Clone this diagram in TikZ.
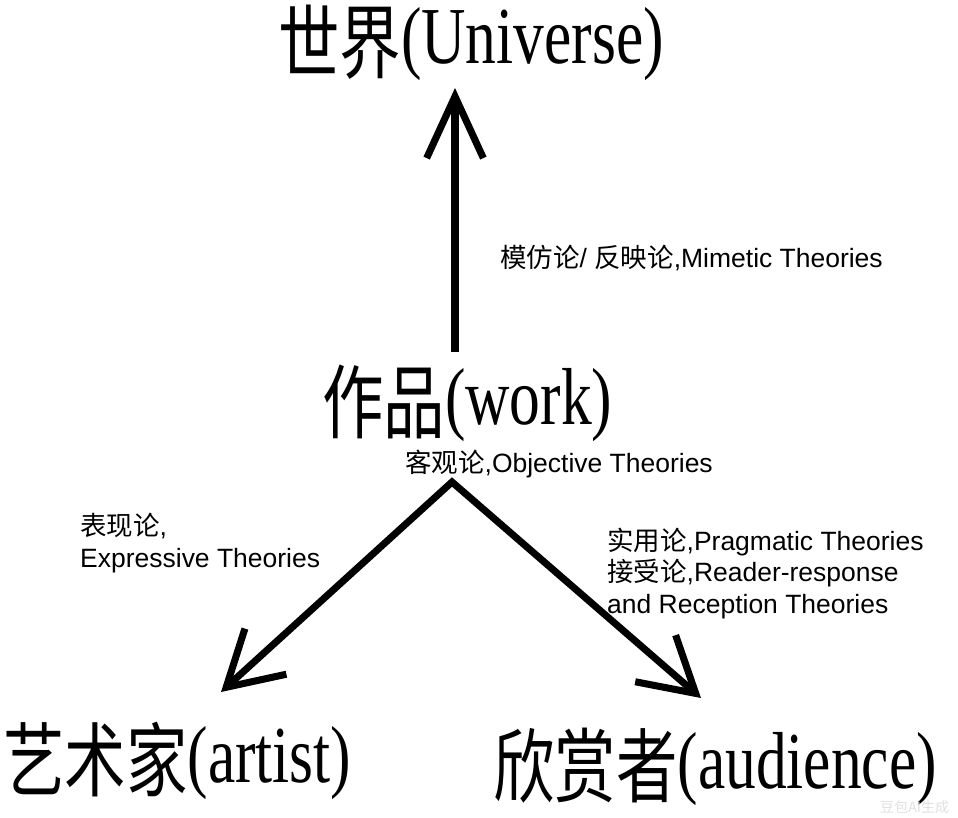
\documentclass[tikz,border=0pt]{standalone}
\usepackage{fontspec}
\usepackage{graphicx}
\setmainfont{Liberation Sans}
\newfontfamily\cjk{Noto Sans CJK SC}
\newfontfamily\bigserif{Liberation Serif}
\usetikzlibrary{arrows.meta}

\def \lineWidth {6pt}
\def \squeeze {0.76}
\newcommand{\bigLabel}[2]{\scalebox{\squeeze}[1]{\raisebox{-0.1em}{\cjk #1}\bigserif(#2)}}

\begin{document}
\begin{tikzpicture}[x=0.03cm, y=-0.03cm,
      big/.style={anchor=base west, inner sep=0pt, font=\fontsize{69}{70}\selectfont},
      small/.style={anchor=base west, inner sep=0pt, align=left, font=\fontsize{22.6}{26.5}\selectfont},
      arr/.style={line width=\lineWidth, -{Straight Barb[length=1.85cm, width=1.7cm]}},
      twoarr/.style={line width=\lineWidth, line join=miter, {Straight Barb[length=1.6cm, width=1.85cm]}-{Straight Barb[length=1.6cm, width=1.85cm]}}]
   \useasboundingbox (0,0) rectangle (958,817);
   \node[big] (universe) at (278,64) {\bigLabel{世界}{Universe}};
   \node[big] (work) at (322,424) {\bigLabel{作品}{work}};
   \node[big] (artist) at (3,782) {\bigLabel{艺术家}{artist}};
   \node[big] (audience) at (493,788) {\bigLabel{欣赏者}{audience}};

   \node[small] (mimetic) at (500,267) {{\cjk 模仿论}/ {\cjk 反映论},Mimetic Theories};
   \node[small] (objective) at (405,472) {{\cjk 客观论},Objective Theories};
   \node[small] (expressive) at (80,567) {{\cjk 表现论},\\Expressive Theories};
   \node[small] (pragmatic) at (607,613) {{\cjk 实用论},Pragmatic Theories\\{\cjk 接受论},Reader-response\\and Reception Theories};
   \node[anchor=base west, inner sep=0pt, text=black!12, font=\cjk\fontsize{12}{12}\selectfont] (mark) at (880,812) {豆包AI生成};

   \coordinate (workTop) at (455,352);
   \coordinate (universeTip) at (455,88);
   \coordinate (apex) at (452,482);
   \coordinate (artistTip) at (221,692);
   \coordinate (audienceTip) at (701,698);
   \draw[arr] (workTop) -- (universeTip);
   \draw[twoarr] (artistTip) -- (apex) -- (audienceTip);
\end{tikzpicture}
\end{document}
